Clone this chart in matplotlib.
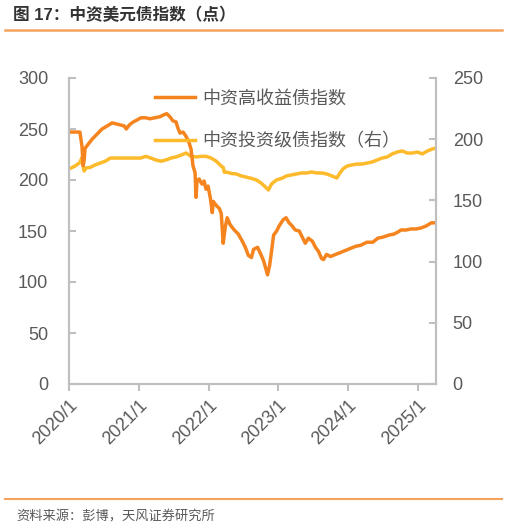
import matplotlib
matplotlib.use("Agg")
import matplotlib.pyplot as plt
import pandas as pd
from matplotlib.lines import Line2D

plt.rcParams['font.family'] = ['Liberation Sans', 'Noto Sans CJK SC', 'DejaVu Sans']

# 中资高收益债指数 (left axis)
hy_dates = ["2020-01-01","2020-02-01","2020-02-27","2020-03-09","2020-03-15","2020-03-20","2020-03-25",
            "2020-04-10","2020-05-01","2020-05-27","2020-06-22","2020-07-19","2020-08-14","2020-09-04",
            "2020-09-25","2020-10-16","2020-10-27","2020-11-12","2020-12-03","2020-12-24","2021-01-11",
            "2021-02-06","2021-02-27","2021-03-25","2021-04-21","2021-05-12","2021-05-27","2021-06-12",
            "2021-06-28","2021-07-14","2021-07-24","2021-08-04","2021-08-20","2021-09-04","2021-09-20",
            "2021-10-01","2021-10-11","2021-10-22","2021-10-27","2021-11-01","2021-11-12","2021-11-27",
            "2021-12-08","2021-12-18","2021-12-29","2022-01-10","2022-01-20","2022-01-25","2022-02-10",
            "2022-02-26","2022-03-08","2022-03-18","2022-03-29","2022-04-08","2022-04-24","2022-05-15",
            "2022-06-05","2022-06-26","2022-07-12","2022-07-28","2022-08-13","2022-08-24","2022-09-14",
            "2022-09-29","2022-10-15","2022-10-26","2022-11-05","2022-11-16","2022-11-26","2022-12-07",
            "2022-12-23","2023-01-05","2023-01-26","2023-02-10","2023-02-26","2023-03-14","2023-03-30",
            "2023-04-20","2023-05-06","2023-05-22","2023-06-07","2023-06-28","2023-07-14","2023-07-30",
            "2023-08-15","2023-08-25","2023-09-10","2023-10-01","2023-10-27","2023-11-23","2023-12-19",
            "2024-01-14","2024-02-10","2024-03-07","2024-04-08","2024-05-09","2024-06-05","2024-07-01",
            "2024-08-02","2024-08-28","2024-09-18","2024-10-04","2024-10-30","2024-11-26","2024-12-22",
            "2025-01-17","2025-02-13","2025-03-11","2025-04-05"]
hy_values = [247,247,247,233,214,219,231,
             235,240,245,250,253,256,255,
             254,253,250,254,257,259,261,
             261,260,261,262,264,265,262,
             258,257,251,246,247,243,237,
             230,214,207,183,199,201,196,
             199,191,194,182,168,179,175,
             172,167,138,154,163,156,151,
             147,140,134,126,124,132,134,
             128,121,114,107,116,130,146,
             150,155,161,163,158,155,151,
             150,144,138,143,140,134,130,
             123,122,127,125,127,129,131,
             133,135,136,139,139,143,144,
             146,147,149,151,151,152,152,
             153,155,158,158]

# 中资投资级债指数 (right axis)
ig_dates = ["2020-01-01","2020-02-01","2020-02-27","2020-03-09","2020-03-15","2020-03-20","2020-03-31",
            "2020-04-21","2020-05-17","2020-06-12","2020-07-09","2020-08-04","2020-09-25","2020-11-18",
            "2021-01-10","2021-02-06","2021-03-04","2021-03-31","2021-04-26","2021-05-22","2021-06-18",
            "2021-07-14","2021-08-10","2021-09-05","2021-10-01","2021-10-27","2021-11-23","2021-12-19",
            "2022-01-14","2022-02-10","2022-03-08","2022-03-18","2022-03-24","2022-04-08","2022-04-29",
            "2022-05-26","2022-06-21","2022-07-17","2022-08-13","2022-09-08","2022-10-04","2022-10-25",
            "2022-11-10","2022-11-26","2022-12-22","2023-01-18","2023-02-13","2023-03-11","2023-04-06",
            "2023-05-03","2023-05-29","2023-06-25","2023-07-21","2023-08-16","2023-09-11","2023-10-08",
            "2023-11-03","2023-11-19","2023-12-05","2023-12-26","2024-01-22","2024-02-17","2024-03-14",
            "2024-04-09","2024-05-06","2024-06-01","2024-06-27","2024-07-24","2024-08-19","2024-09-14",
            "2024-10-10","2024-11-06","2024-12-02","2024-12-28","2025-01-24","2025-02-19","2025-03-17",
            "2025-04-05"]
ig_values = [175.7,178,181,185,178,174,176.5,
             177,179,180.5,182,184.6,184.6,184.6,
             184.6,186,184.6,183,182,183,184.6,
             185.5,187,188.7,186,185.5,186,186,
             184.6,182,178,177,173,173,172,
             171.6,170,169,168,166.7,164,161,
             158.5,163.4,166.7,168,170,170.8,171.6,
             172.4,172.4,173.2,172.4,172.4,171.6,170,
             168.3,172.4,175.7,178,179,179.7,179.7,
             180.5,181.4,183,184.6,185.5,188,189.5,
             190.4,188.7,188.7,189.5,188,190.4,192,
             192.8]

left_ticks = [0, 50, 100, 150, 200, 250, 300]
right_ticks = [0, 50, 100, 150, 200, 250]
x_tick_dates = ["2020-01-01","2021-01-01","2022-01-01","2023-01-01","2024-01-01","2025-01-01"]
x_tick_labels = ["2020/1","2021/1","2022/1","2023/1","2024/1","2025/1"]

hy_label = "中资高收益债指数"
ig_label = "中资投资级债指数（右）"
title = "图 17：中资美元债指数（点）"
source = "资料来源：彭博，天风证券研究所"

c_hy = "#F5841F"
c_ig = "#FDBA2B"
grey_axis = "#BFBFBF"
grey_text = "#595959"
rule_color = "#F5A25A"

W, H = 508, 529
fig = plt.figure(figsize=(W/100, H/100), dpi=100)
ax = fig.add_axes([69/W, 1-384/H, (436-69)/W, (384-78)/H])
ax2 = ax.twinx()

ax.plot(pd.to_datetime(hy_dates), hy_values, color=c_hy, lw=2.5, solid_joinstyle='round')
ax2.plot(pd.to_datetime(ig_dates), ig_values, color=c_ig, lw=2.5, solid_joinstyle='round')
ax.set_zorder(ax2.get_zorder() + 1)
ax.patch.set_visible(False)

ax.set_ylim(0, 300)
ax2.set_ylim(0, 250)
ax.set_yticks(left_ticks)
ax2.set_yticks(right_ticks)
ax.set_xlim(pd.Timestamp("2020-01-01"), pd.Timestamp("2025-04-05"))
ax.set_xticks(pd.to_datetime(x_tick_dates))
ax.set_xticklabels(x_tick_labels, rotation=45, ha='right', rotation_mode='anchor')

for a in (ax, ax2):
    for s in a.spines.values():
        s.set_color(grey_axis)
        s.set_linewidth(1.5)
    a.spines['top'].set_visible(False)

ax.tick_params(axis='y', direction='in', length=5, width=1.5, color=grey_axis,
               labelsize=13, labelcolor=grey_text, pad=15)
ax2.tick_params(axis='y', direction='in', length=5, width=1.5, color=grey_axis,
                labelsize=13, labelcolor=grey_text, pad=12)
ax.tick_params(axis='x', direction='out', length=5, width=1.5, color=grey_axis,
               labelsize=13, labelcolor=grey_text, pad=4)

handles = [Line2D([], [], color=c_hy, lw=2.5), Line2D([], [], color=c_ig, lw=2.5)]
leg = ax.legend(handles, [hy_label, ig_label], loc='upper left',
                bbox_to_anchor=((155-69)/(436-69), 0.96), frameon=False,
                fontsize=13, handlelength=2.2, handletextpad=0.4, labelspacing=1.4,
                borderpad=0, borderaxespad=0)
for t in leg.get_texts():
    t.set_color(grey_text)

fig.text(13/W, 1-15/H, title, fontsize=12, fontweight='bold', color='#333333',
         ha='left', va='center')
fig.add_artist(Line2D([5/W, 502/W], [1-29.5/H, 1-29.5/H], color=rule_color, lw=1.8))
fig.add_artist(Line2D([5/W, 502/W], [1-499/H, 1-499/H], color=rule_color, lw=1.5))
fig.text(16/W, 1-517/H, source, fontsize=9.5, color=grey_text, ha='left', va='center')

fig.savefig("out.png", dpi=100)
